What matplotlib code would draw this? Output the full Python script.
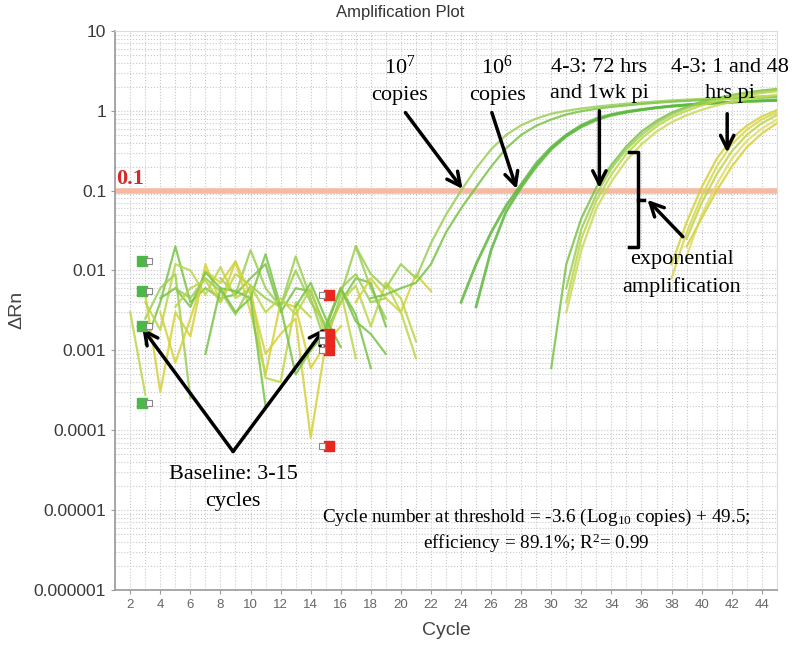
import numpy as np
import matplotlib
matplotlib.use("Agg")
import matplotlib.pyplot as plt
from matplotlib.ticker import MultipleLocator, LogLocator, NullFormatter

plt.rcParams['font.family'] = ['Liberation Sans', 'DejaVu Sans']
plt.rcParams['mathtext.fontset'] = 'custom'
plt.rcParams['mathtext.rm'] = 'Liberation Serif'
plt.rcParams['mathtext.it'] = 'Liberation Serif'

# ---- data (start cycle, values) ----
nan = np.nan
# noisy baseline traces
base_y0 = (2, [0.003, 0.00028])
base_g1 = (3, [0.0012, 0.004, 0.02, 0.004, 0.006, 0.0045, 0.005, 0.008, 0.012, 0.003, 0.006, 0.0055, 0.0019, 0.006, 0.0028, 0.0006])
base_g2 = (3, [0.0025, 0.006, 0.009, 0.00025, nan, 0.008, 0.005, 0.018, 0.006, 0.0035, 0.015, 0.0045, 0.0012, 0.005, 0.02, 0.006, 0.0025])
base_y1 = (3, [0.005, 0.0003, 0.003, 0.0015, 0.012, 0.004, 0.013, 0.003, 0.0005, 0.004, 0.0035, 0.0006, 0.0012])
base_y2 = (3, [0.004, 0.0018, 0.012, 0.01, 0.005, 0.011, 0.0045, 0.006, 0.00045, 0.0004, 0.004, 0.0026, nan, 0.0055, 0.0008, nan, 0.007, 0.003, 0.0008])
base_y3 = (4, [0.003, 0.0007, 0.0025, 0.01, 0.007, 0.013, 0.005, 0.0009, 0.0016, 0.0025, 0.00008, 0.0012, 0.002])
base_g3 = (4, [0.0045, 0.006, 0.0035, 0.0095, 0.006, 0.0055, 0.0045, 0.016, 0.0035, 0.0005, 0.001, 0.0017, 0.004, 0.008, 0.007, 0.002])
base_g4 = (5, [0.006, 0.0045, 0.008, 0.0055, 0.0028, 0.0065, 0.0045, 0.0035, 0.01, 0.004, 0.0021, 0.006, 0.009, 0.004, 0.0045])
base_y4 = (5, [0.0035, 0.006, 0.0075, 0.004, 0.009, 0.0065, 0.003, 0.0045, 0.0028, 0.006, 0.0015, 0.004, 0.0065, 0.002, 0.007, 0.0045, 0.0013])
base_g5 = (15, [0.0019, 0.006, 0.0023, 0.0016, 0.0009])
base_y5 = (17, [0.004, 0.008, 0.0045, 0.003, 0.009, 0.0055])
base_g6 = (7, [0.0009, 0.006, 0.003, 0.0045, 0.0002, nan, 0.0035, 0.007, 0.0025, 0.0011])

# amplification curves
c7_a = (17, [0.02, 0.009, 0.006, 0.012, 0.008, 0.022, 0.05, 0.1, 0.19, 0.33, 0.5, 0.66, 0.8, 0.92, 1.0,
             1.07, 1.13, 1.18, 1.23, 1.27, 1.31, 1.35, 1.38, 1.41, 1.44, 1.47, 1.5, 1.52, 1.55])
c7_b = (18, [0.0045, 0.005, 0.006, 0.007, 0.012, 0.03, 0.06, 0.11, 0.2, 0.34, 0.5, 0.65, 0.78, 0.9,
             0.99, 1.06, 1.12, 1.17, 1.22, 1.26, 1.3, 1.33, 1.36, 1.39, 1.42, 1.44, 1.46, 1.48])
c6_a = (24, [0.004, 0.012, 0.03, 0.065, 0.12, 0.22, 0.35, 0.5, 0.66, 0.8, 0.9, 0.98, 1.04, 1.1, 1.15,
             1.19, 1.23, 1.26, 1.29, 1.32, 1.34, 1.36])
c6_b = (25, [0.0035, 0.018, 0.055, 0.11, 0.2, 0.33, 0.48, 0.63, 0.77, 0.88, 0.96, 1.03, 1.09, 1.14,
             1.18, 1.22, 1.25, 1.28, 1.31, 1.33, 1.35])
h72_1 = (30, [0.0006, 0.012, 0.045, 0.11, 0.21, 0.36, 0.55, 0.75, 0.95, 1.12, 1.3, 1.45, 1.58, 1.7, 1.8, 1.88])
h72_2 = (31, [0.006, 0.033, 0.09, 0.19, 0.33, 0.5, 0.7, 0.9, 1.08, 1.25, 1.4, 1.53, 1.65, 1.75, 1.83])
h72_3 = (31, [0.004, 0.025, 0.075, 0.16, 0.29, 0.45, 0.64, 0.83, 1.0, 1.17, 1.32, 1.45, 1.57, 1.67, 1.76])
h72_4 = (31, [0.003, 0.018, 0.06, 0.13, 0.24, 0.38, 0.55, 0.72, 0.88, 1.03, 1.17, 1.29, 1.4, 1.5, 1.58])
h48_1 = (38, [0.012, 0.04, 0.11, 0.25, 0.45, 0.65, 0.85, 1.02])
h48_2 = (38, [0.008, 0.03, 0.085, 0.2, 0.38, 0.58, 0.78, 0.95])
h48_3 = (39, [0.025, 0.07, 0.16, 0.31, 0.5, 0.7, 0.88])
h48_4 = (39, [0.015, 0.05, 0.12, 0.25, 0.42, 0.6, 0.78])
h48_5 = (39, [0.02, 0.045, 0.1, 0.2, 0.35, 0.52, 0.7])

# baseline start / end markers
start_marks = [0.013, 0.0055, 0.002, 0.00022]
end_marks = [0.005, 0.0016, 0.0013, 0.001, 0.000063]

threshold = 0.1
ytick_vals = [1e-6, 1e-5, 1e-4, 1e-3, 1e-2, 1e-1, 1, 10]
ytick_labels = ['0.000001', '0.00001', '0.0001', '0.001', '0.01', '0.1', '1', '10']

DG, MG, LG, YG, YE = '#5cb83c', '#79c446', '#9ccf55', '#bcd64a', '#d5d23a'

traces = [
    (base_y0, YG), (base_g1, MG), (base_g2, LG), (base_y1, YE), (base_y2, YG),
    (base_y3, YE), (base_g3, MG), (base_g4, LG), (base_y4, YG), (base_g5, MG), (base_y5, YE),
    (base_g6, MG),
    (c7_a, LG), (c7_b, MG), (c6_a, DG), (c6_b, DG),
    (h72_1, MG), (h72_2, LG), (h72_3, YG), (h72_4, '#c8da5a'),
    (h48_1, YE), (h48_2, '#d9d64e'), (h48_3, YG), (h48_4, '#e0dc6a'), (h48_5, YE),
]

fig = plt.figure(figsize=(8, 6.46), dpi=100)
ax = fig.add_axes([0.144, 0.087, 0.827, 0.865])
ax.set_yscale('log')
ax.set_xlim(1, 45)
ax.set_ylim(1e-6, 10)

for (start, vals), col in traces:
    x = np.arange(start, start + len(vals))
    lw = 2.0 if col == DG else 1.6
    ax.plot(x, vals, color=col, lw=lw, alpha=0.85, zorder=3)

ax.axhline(threshold, color='#f6b9a2', lw=4, zorder=2)
ax.text(1.05, threshold * 1.04, '0.1', color='#d42a2a', fontsize=16, fontweight='bold',
        family='Liberation Serif', va='bottom', ha='left', zorder=5)

# baseline markers
ax.scatter([2.75] * len(start_marks), start_marks, marker='s', s=55, color='#4cb848',
           edgecolor='#4cb848', zorder=6)
ax.scatter([3.25] * len(start_marks), start_marks, marker='s', s=25, color='white',
           edgecolor='#888888', lw=0.8, zorder=6)
ax.scatter([15.25] * len(end_marks), end_marks, marker='s', s=55, color='#e8281e',
           edgecolor='#e8281e', zorder=6)
ax.scatter([14.75] * len(end_marks), end_marks, marker='s', s=25, color='white',
           edgecolor='#888888', lw=0.8, zorder=6)

# axes styling
ax.set_yticks(ytick_vals)
ax.set_yticklabels(ytick_labels)
ax.yaxis.set_minor_locator(LogLocator(base=10, subs=np.arange(2, 10)))
ax.yaxis.set_minor_formatter(NullFormatter())
ax.set_xticks(np.arange(2, 45, 2))
ax.xaxis.set_minor_locator(MultipleLocator(1))
ax.grid(which='both', ls=':', color='#c8c8c8', lw=0.8, zorder=0)
ax.tick_params(axis='y', labelsize=12.5, labelcolor='#3a3a3a', color='#999999', length=3)
ax.tick_params(axis='x', labelsize=9.5, labelcolor='#666666', color='#999999', length=3)
ax.tick_params(which='minor', length=0)
for side in ['left', 'bottom']:
    ax.spines[side].set_color('#999999')
    ax.spines[side].set_linewidth(1.2)
for side in ['top', 'right']:
    ax.spines[side].set_color('#dddddd')

ax.set_xlabel('Cycle', fontsize=14, color='#444444', labelpad=8)
ax.set_ylabel('ΔRn', fontsize=14, color='#444444', labelpad=6)
fig.text(0.5, 0.981, 'Amplification Plot', ha='center', va='center', fontsize=12, color='#333333')

# annotations
serif = dict(family='Liberation Serif', fontsize=16, color='black', ha='center', va='center',
             linespacing=1.55)
arrow = dict(arrowstyle='->', lw=2.5, color='black', mutation_scale=24, shrinkA=0, shrinkB=0)

ax.text(19.9, 2.4, '10$^{7}$\ncopies', **serif)
ax.annotate('', xy=(24.1, 0.105), xytext=(20.3, 0.95), arrowprops=arrow)
ax.text(26.4, 2.4, '10$^{6}$\ncopies', **serif)
ax.annotate('', xy=(27.7, 0.105), xytext=(26.05, 0.95), arrowprops=arrow)
ax.text(33.2, 2.4, '4-3: 72 hrs\nand 1wk pi', **serif)
ax.annotate('', xy=(33.2, 0.108), xytext=(33.2, 1.0), arrowprops=arrow)
ax.text(41.9, 2.4, '4-3: 1 and 48\nhrs pi', **serif)
ax.annotate('', xy=(41.7, 0.3), xytext=(41.7, 0.92), arrowprops=arrow)

# bracket around exponential phase
bx0, bx1, bx2 = 35.2, 35.75, 36.2
ax.plot([bx0, bx1, bx1, bx0], [0.305, 0.305, 0.0197, 0.0197], color='black', lw=2.5, zorder=7)
ax.plot([bx1, bx2], [0.0766, 0.0766], color='black', lw=2.5, zorder=7)
ax.annotate('', xy=(36.4, 0.0766), xytext=(38.75, 0.0265), arrowprops=arrow)
ax.text(38.67, 0.0091, 'exponential\namplification', **serif)

# baseline arrows
ax.annotate('', xy=(2.8, 0.0019), xytext=(8.84, 5.4e-5), arrowprops=arrow)
ax.annotate('', xy=(14.95, 0.0019), xytext=(8.84, 5.4e-5), arrowprops=arrow)
ax.text(8.84, 1.9e-5, 'Baseline: 3-15\ncycles', **serif)

ax.text(29.0, 5.4e-6, 'Cycle number at threshold = -3.6 (Log$_{10}$ copies) + 49.5;\n'
        'efficiency = 89.1%; R$^{2}$= 0.99', family='Liberation Serif', fontsize=13.8,
        ha='center', va='center', linespacing=1.2)

fig.savefig('out.png', dpi=100)
